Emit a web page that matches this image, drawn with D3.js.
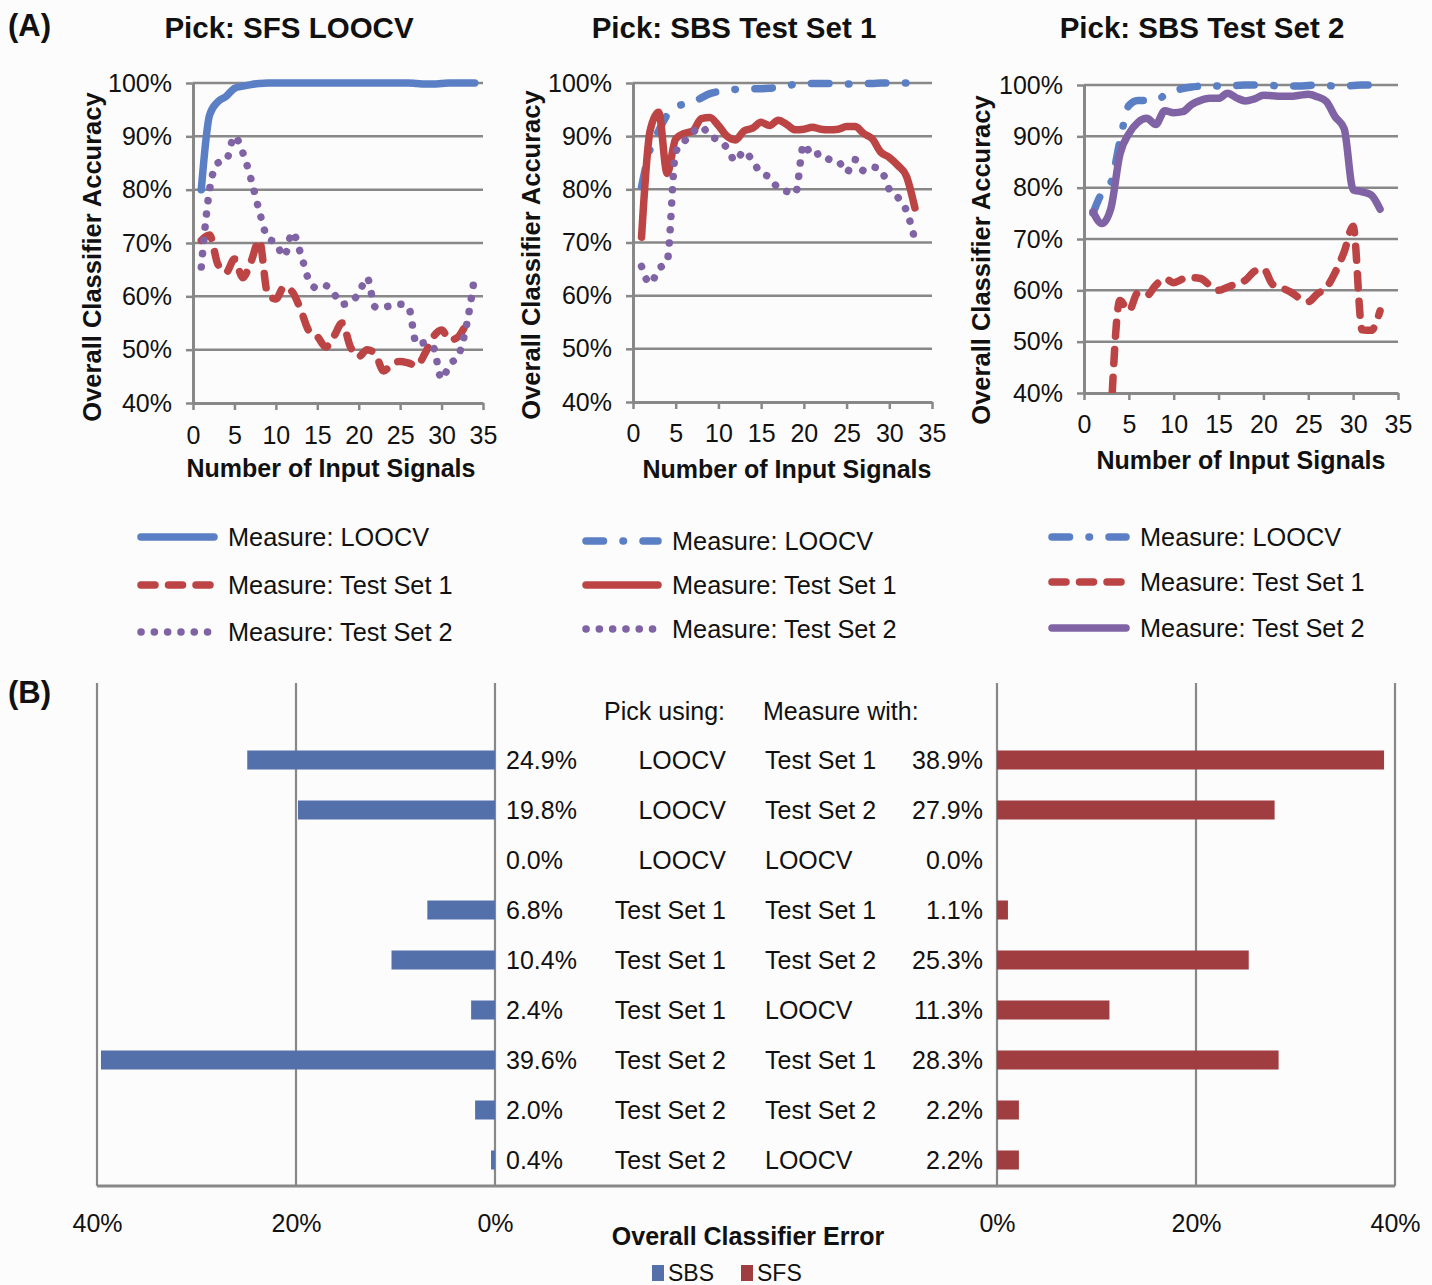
<!DOCTYPE html>
<html>
<head>
<meta charset="utf-8">
<script src="https://cdn.jsdelivr.net/npm/d3@7"></script>
<style>
  html, body { margin: 0; padding: 0; background: #fcfcfc; }
  svg { display: block; font-family: "Liberation Sans", Arial, Helvetica, sans-serif; }
</style>
</head>
<body>
<svg id="fig" width="1432" height="1285"></svg>
<script>
// ---------- Panel A data: overall classifier accuracy (%) vs number of input signals ----------
const accuracyTicks = [40, 50, 60, 70, 80, 90, 100];
const signalTicks = [0, 5, 10, 15, 20, 25, 30, 35];

// Pick: SFS LOOCV
const sfsSignals = [1,2,3,4,5,6,7,8,9,10,11,12,13,14,15,16,17,18,19,20,21,22,23,24,25,26,27,28,29,30,31,32,33,34];
const sfsLoocv = [80,94,96.5,97.5,99,99.4,99.7,99.9,100,100,100,100,100,100,100,100,100,100,100,100,100,100,100,100,100,100,99.9,99.8,99.8,99.9,100,100,100,100];
const sfsTest1 = [70.5,71.5,66,64.5,67,63.5,66.5,70.5,60.5,59.5,61.8,60.8,57.5,53.5,52.5,50.5,52.5,55,50.5,48.7,50,49.2,46,47.3,47.8,47.5,47,49.3,52.4,53.7,51.8,52.4,54.3,54];
const sfsTest2 = [65.5,80,85,85.5,90,87,82,76,71,70,67.5,72,68,63,61.5,62,60.5,58.5,59,60.5,63.5,58,58,58.3,58.5,58,51,51.3,50.5,44.5,47.3,48.8,54.5,63.8];

// Pick: SBS Test Set 1
const sbs1Signals = [1,2,3,4,5,6,7,8,9,10,11,12,13,14,15,16,17,18,19,20,21,22,23,24,25,26,27,28,29,30,31,32,33,34];
const sbs1Loocv = [80.5,87.5,91,94,95.5,96,96.3,97.2,98,98.4,98.7,98.8,98.9,98.9,98.9,99,99.2,99.4,99.8,99.9,99.9,99.9,99.9,99.9,99.8,99.8,99.9,99.9,100,100,100,100,100,100];
const sbs1Test1 = [71,91,94.5,83,89.5,90.5,91,93.3,93.5,92,90,89.3,91,91.5,92.6,92,93,92.2,91.2,91.3,91.7,91.3,91.2,91.3,91.8,91.8,90.5,89.5,87,86,84.5,82.5,76.5];
const sbs1Test2 = [65.5,62.3,65,66.5,87,89,90.7,91.8,90,89.3,87.8,85.3,87.2,85.3,83,82.3,80.2,79.6,79.2,88.5,86.3,86.8,85.6,85.3,83.2,85.6,83.5,84.2,83.7,80,78.5,76,70.5];

// Pick: SBS Test Set 2
const sbs2Signals = [1,2,3,4,5,6,7,8,9,10,11,12,13,14,15,16,17,18,19,20,21,22,23,24,25,26,27,28,29,30,31,32,33];
const sbs2Loocv = [75,79,81,89,96,97,97,97,98,98.8,99.3,99.6,99.8,100,99.8,99.8,99.9,100,100,100,99.9,99.8,99.8,99.8,99.9,100,99.9,99.8,99.8,99.9,100,100,100];
const sbs2Test1Signals = [3,4,5,6,7,8,9,10,11,12,13,14,15,16,17,18,19,20,21,22,23,24,25,26,27,28,29,30,31,32,33];
const sbs2Test1 = [35,58,56,59.5,59,61,62.3,61.5,62.2,62.5,62.3,61,60,60.6,61.3,62,63.7,64.2,61.2,60.5,59.7,58.5,57.8,59.3,60.5,63.5,67.5,72.5,52.3,52.2,56];
const sbs2Test2 = [75.3,73,76,86.5,90.5,92.7,93.5,92.3,95,94.6,94.8,96.2,97,97.4,97.4,98.4,97.5,96.9,97.3,98,97.9,97.8,97.8,98,98.2,97.7,96.8,93.8,91.5,79.6,79.2,78.6,75.8];

// ---------- Panel B data: overall classifier error (%) ----------
const pickUsing = ["LOOCV","LOOCV","LOOCV","Test Set 1","Test Set 1","Test Set 1","Test Set 2","Test Set 2","Test Set 2"];
const measureWith = ["Test Set 1","Test Set 2","LOOCV","Test Set 1","Test Set 2","LOOCV","Test Set 1","Test Set 2","LOOCV"];
const sbsError = [24.9, 19.8, 0.0, 6.8, 10.4, 2.4, 39.6, 2.0, 0.4];
const sfsError = [38.9, 27.9, 0.0, 1.1, 25.3, 11.3, 28.3, 2.2, 2.2];
const errorTicks = [0, 20, 40];

// ---------- styles ----------
const C = { blue: "#5b7fc5", red: "#bc4444", purple: "#8063a5", grid: "#888888",
            barBlue: "#5470aa", barRed: "#a03d41", text: "#111" };
const LW = 7.5;
const DASH = { solid: null, dashed: "14,13.5", dotted: "0.1,13.2", dashdot: "17.5,19.5,0.5,19.5" };

const svg = d3.select("#fig");
svg.append("rect").attr("width", 1432).attr("height", 1285).attr("fill", "#fcfcfc");

// ---------- Panel A ----------
svg.append("text").attr("x", 8).attr("y", 36).attr("font-size", 31).attr("font-weight", "bold")
  .attr("fill", C.text).text("(A)");

const panels = [
  { title: "Pick: SFS LOOCV", left: 193, right: 483, top: 83, bottom: 403, titleX: 289,
    yTitleX: 92, yTitleY: 257, xTitleX: 331, xTitleY: 477, xPad: 16,
    series: [
      { name: "Measure: LOOCV", xs: sfsSignals, ys: sfsLoocv, color: C.blue, dash: "solid" },
      { name: "Measure: Test Set 1", xs: sfsSignals, ys: sfsTest1, color: C.red, dash: "dashed" },
      { name: "Measure: Test Set 2", xs: sfsSignals, ys: sfsTest2, color: C.purple, dash: "dotted" }],
    legend: { x1: 137, x2: 218, tx: 228, ys: [537, 585, 632] } },
  { title: "Pick: SBS Test Set 1", left: 633, right: 932, top: 83, bottom: 402, titleX: 734,
    yTitleX: 531, yTitleY: 255, xTitleX: 787, xTitleY: 478, xPad: 15,
    series: [
      { name: "Measure: LOOCV", xs: sbs1Signals, ys: sbs1Loocv, color: C.blue, dash: "dashdot" },
      { name: "Measure: Test Set 1", xs: sbs1Signals.slice(0, 33), ys: sbs1Test1, color: C.red, dash: "solid" },
      { name: "Measure: Test Set 2", xs: sbs1Signals.slice(0, 33), ys: sbs1Test2, color: C.purple, dash: "dotted" }],
    legend: { x1: 582, x2: 662, tx: 672, ys: [541, 585, 629] } },
  { title: "Pick: SBS Test Set 2", left: 1084, right: 1398, top: 85, bottom: 393, titleX: 1202,
    yTitleX: 981, yTitleY: 260, xTitleX: 1241, xTitleY: 469, xPad: 15,
    series: [
      { name: "Measure: LOOCV", xs: sbs2Signals, ys: sbs2Loocv, color: C.blue, dash: "dashdot" },
      { name: "Measure: Test Set 1", xs: sbs2Test1Signals, ys: sbs2Test1, color: C.red, dash: "dashed" },
      { name: "Measure: Test Set 2", xs: sbs2Signals, ys: sbs2Test2, color: C.purple, dash: "solid" }],
    legend: { x1: 1048, x2: 1130, tx: 1140, ys: [537, 582, 628] } }
];

panels.forEach((p, i) => {
  const g = svg.append("g");
  const x = d3.scaleLinear().domain([0, 35]).range([p.left, p.right]);
  const y = d3.scaleLinear().domain([40, 100]).range([p.bottom, p.top]);

  g.append("text").attr("x", p.titleX).attr("y", 38).attr("text-anchor", "middle")
    .attr("font-size", 29.5).attr("font-weight", "bold").attr("fill", C.text).text(p.title);

  // horizontal gridlines
  g.append("g").selectAll("line").data(accuracyTicks.filter(d => d > 40)).join("line")
    .attr("x1", p.left).attr("x2", p.right).attr("y1", d => y(d)).attr("y2", d => y(d))
    .attr("stroke", C.grid).attr("stroke-width", 2.5);

  // y axis
  const ya = g.append("g").attr("transform", `translate(${p.left},0)`)
    .call(d3.axisLeft(y).tickValues(accuracyTicks).tickFormat(d => d + "%").tickSize(7).tickSizeOuter(0).tickPadding(14));
  // x axis
  const xa = g.append("g").attr("transform", `translate(0,${p.bottom})`)
    .call(d3.axisBottom(x).tickValues(signalTicks).tickSize(7).tickSizeOuter(0).tickPadding(p.xPad));
  [ya, xa].forEach(a => {
    a.select(".domain").attr("stroke", C.grid).attr("stroke-width", 3);
    a.selectAll(".tick line").attr("stroke", C.grid).attr("stroke-width", 2.5);
    a.selectAll("text").attr("font-size", 25).attr("fill", C.text)
      .attr("font-family", "'Liberation Sans', Arial, sans-serif");
  });

  // axis titles
  g.append("text").attr("transform", `translate(${p.yTitleX},${p.yTitleY}) rotate(-90)`)
    .attr("text-anchor", "middle").attr("dy", "0.36em").attr("font-size", 25.5).attr("font-weight", "bold")
    .attr("fill", C.text).text("Overall Classifier Accuracy");
  g.append("text").attr("x", p.xTitleX).attr("y", p.xTitleY).attr("text-anchor", "middle")
    .attr("font-size", 25).attr("font-weight", "bold").attr("fill", C.text).text("Number of Input Signals");

  // clip lines to the plot area
  const clipId = "plot-clip-" + i;
  svg.append("clipPath").attr("id", clipId).append("rect")
    .attr("x", p.left - 10).attr("y", p.top - 10).attr("width", p.right - p.left + 20).attr("height", p.bottom - p.top + 10);

  const line = d3.line().x(d => x(d[0])).y(d => y(d[1])).curve(d3.curveMonotoneX);
  const lg = g.append("g").attr("clip-path", `url(#${clipId})`);
  p.series.forEach(s => {
    lg.append("path").datum(s.xs.map((v, k) => [v, s.ys[k]]))
      .attr("d", line).attr("fill", "none").attr("stroke", s.color).attr("stroke-width", LW)
      .attr("stroke-linecap", "round").attr("stroke-linejoin", "round")
      .attr("stroke-dasharray", DASH[s.dash]);
  });

  // legend
  p.series.forEach((s, k) => {
    const ly = p.legend.ys[k];
    g.append("line").attr("x1", p.legend.x1 + 4).attr("x2", p.legend.x2 - 4).attr("y1", ly).attr("y2", ly)
      .attr("stroke", s.color).attr("stroke-width", LW).attr("stroke-linecap", "round")
      .attr("stroke-dasharray", DASH[s.dash]);
    g.append("text").attr("x", p.legend.tx).attr("y", ly + 9).attr("font-size", 25.3)
      .attr("fill", C.text).text(s.name);
  });
});

// ---------- Panel B ----------
svg.append("text").attr("x", 8).attr("y", 703).attr("font-size", 31).attr("font-weight", "bold")
  .attr("fill", C.text).text("(B)");

const bTop = 683, bBottom = 1186;
const xL = d3.scaleLinear().domain([0, 40]).range([495, 97]);
const xR = d3.scaleLinear().domain([0, 40]).range([997, 1395]);
const row = d3.scalePoint().domain(d3.range(sbsError.length)).range([760, 1160]);
const barH = 19;

const gb = svg.append("g");
// vertical gridlines
[xL, xR].forEach(sc => {
  gb.append("g").selectAll("line").data(errorTicks).join("line")
    .attr("x1", d => sc(d)).attr("x2", d => sc(d)).attr("y1", bTop).attr("y2", bBottom)
    .attr("stroke", C.grid).attr("stroke-width", 2.2);
});

// bars
gb.append("g").selectAll("rect").data(sbsError).join("rect")
  .attr("x", d => xL(d)).attr("width", d => xL(0) - xL(d))
  .attr("y", (d, i) => row(i) - barH / 2).attr("height", barH).attr("fill", C.barBlue);
gb.append("g").selectAll("rect").data(sfsError).join("rect")
  .attr("x", xR(0)).attr("width", d => xR(d) - xR(0))
  .attr("y", (d, i) => row(i) - barH / 2).attr("height", barH).attr("fill", C.barRed);

// bottom axis line
gb.append("line").attr("x1", 97).attr("x2", 1395).attr("y1", bBottom).attr("y2", bBottom)
  .attr("stroke", C.grid).attr("stroke-width", 3);

// tick labels
[xL, xR].forEach(sc => {
  const a = gb.append("g").attr("transform", `translate(0,${bBottom})`)
    .call(d3.axisBottom(sc).tickValues(errorTicks).tickFormat(d => d + "%").tickSize(0).tickPadding(28));
  a.select(".domain").remove();
  a.selectAll("text").attr("font-size", 25).attr("fill", C.text)
    .attr("font-family", "'Liberation Sans', Arial, sans-serif");
});

// row labels
const tb = gb.append("g").attr("font-size", 25).attr("fill", C.text);
tb.append("text").attr("x", 725).attr("y", 720).attr("text-anchor", "end").text("Pick using:");
tb.append("text").attr("x", 763).attr("y", 720).text("Measure with:");
tb.selectAll(".lv").data(sbsError).join("text").attr("class", "lv")
  .attr("x", 506).attr("y", (d, i) => row(i) + 9).text(d => d.toFixed(1) + "%");
tb.selectAll(".pk").data(pickUsing).join("text").attr("class", "pk")
  .attr("x", 726).attr("y", (d, i) => row(i) + 9).attr("text-anchor", "end").text(d => d);
tb.selectAll(".ms").data(measureWith).join("text").attr("class", "ms")
  .attr("x", 765).attr("y", (d, i) => row(i) + 9).text(d => d);
tb.selectAll(".rv").data(sfsError).join("text").attr("class", "rv")
  .attr("x", 983).attr("y", (d, i) => row(i) + 9).attr("text-anchor", "end").text(d => d.toFixed(1) + "%");

// axis title
gb.append("text").attr("x", 748).attr("y", 1245).attr("text-anchor", "middle")
  .attr("font-size", 25).attr("font-weight", "bold").attr("fill", C.text).text("Overall Classifier Error");

// legend
const legendItems = [{ name: "SBS", color: C.barBlue, x: 652 }, { name: "SFS", color: C.barRed, x: 741 }];
legendItems.forEach(d => {
  gb.append("rect").attr("x", d.x).attr("y", 1265).attr("width", 12).attr("height", 16).attr("fill", d.color);
  gb.append("text").attr("x", d.x + 16).attr("y", 1281).attr("font-size", 23).attr("fill", C.text).text(d.name);
});
</script>
</body>
</html>
